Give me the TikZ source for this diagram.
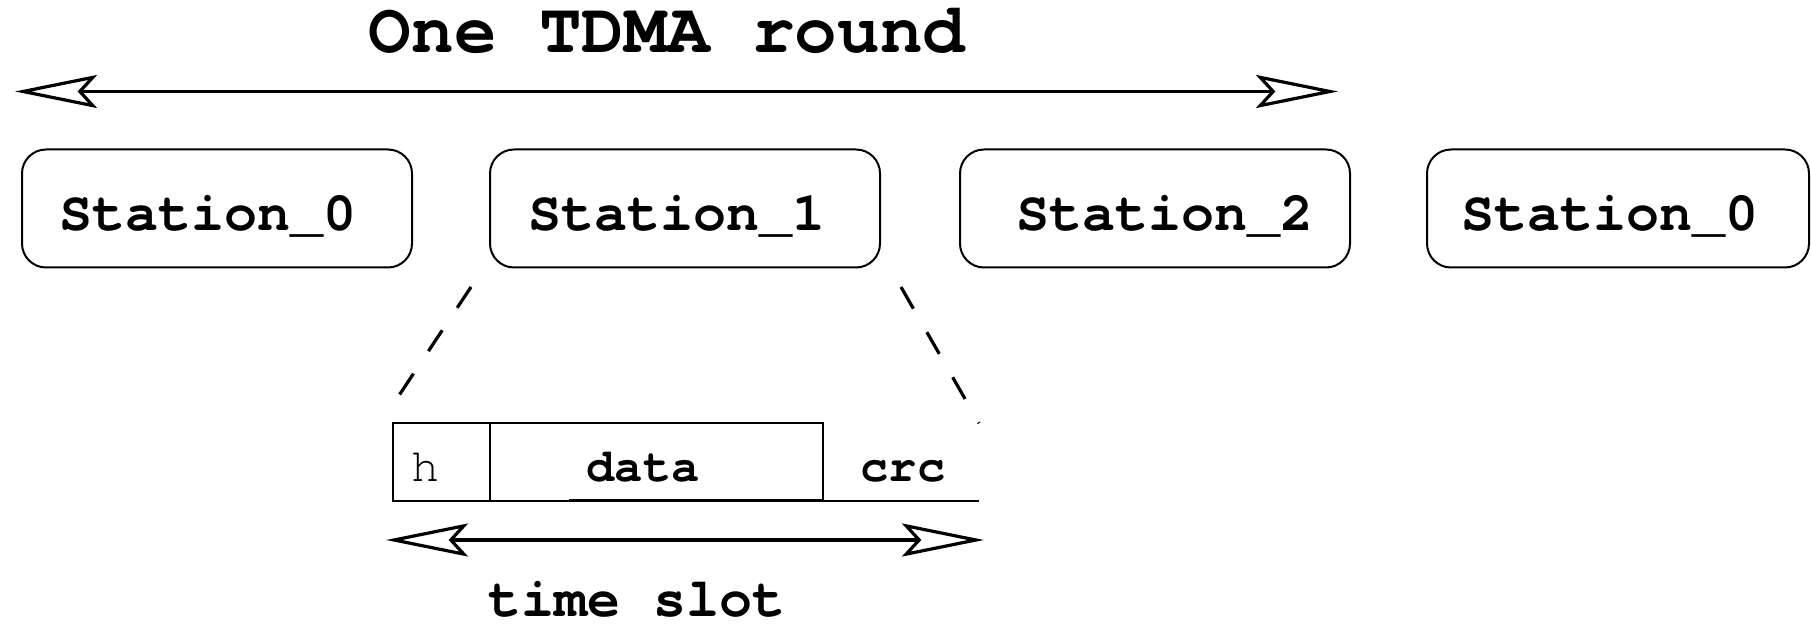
\documentclass[tikz,border=0pt]{standalone}
\usepackage{fontspec}
\setmonofont{TeX Gyre Cursor}
\usetikzlibrary{arrows.meta}
\begin{document}
\begin{tikzpicture}[x=0.5pt,y=-0.5pt,
  stationbox/.style={draw, line width=1pt, rounded corners=12pt,
    minimum width=195pt, minimum height=59pt, inner sep=0pt, outer sep=0pt,
    anchor=north west},
  stationtext/.style={anchor=base, inner sep=0pt,
    font=\ttfamily\bfseries\fontsize{27.5}{30}\selectfont},
  cell/.style={draw, line width=1pt, minimum height=38.75pt, inner sep=0pt,
    outer sep=0pt, anchor=north west},
  celltext/.style={anchor=base, inner sep=0pt,
    font=\ttfamily\fontsize{23.5}{26}\selectfont},
  span/.style={line width=1.6pt,
    {Stealth[open, length=41pt, width=16.5pt, inset=7.5pt]}-{Stealth[open, length=41pt, width=16.5pt, inset=7.5pt]}},
  zoomline/.style={line width=1.6pt, dash pattern=on 12.5pt off 13.5pt}]
\useasboundingbox (0,0) rectangle (1811,625);

% heading and the span of one round
\node[anchor=base, inner sep=0pt,
  font=\ttfamily\bfseries\fontsize{35.5}{40}\selectfont] (title) at (667,53) {One TDMA round};
\coordinate (roundL) at (15,91.5);
\coordinate (roundR) at (1338,91.5);
\draw[span] (roundL) -- (roundR);

% station slots
\node[stationbox] (st0) at (22,149.5) {};
\node[stationbox] (st1) at (490,149.5) {};
\node[stationbox] (st2) at (960,149.5) {};
\node[stationbox, minimum width=191pt] (st3) at (1427,149.5) {};
\node[stationtext] (st0t) at (208,231) {Station\_0};
\node[stationtext] (st1t) at (677,231) {Station\_1};
\node[stationtext] (st2t) at (1165,231) {Station\_2};
\node[stationtext] (st3t) at (1610,231) {Station\_0};

% layout of one slot
\node[cell, minimum width=48.5pt] (hcell) at (393,423.3) {};
\node[cell, minimum width=166.35pt] (datacell) at (490,423.3) {};
\node[minimum width=78.15pt, minimum height=38.75pt, inner sep=0pt, outer sep=0pt,
  anchor=north west] (crccell) at (822.7,423.3) {};
\draw[line width=1pt] (datacell.south east) -- (crccell.south east);
\draw[line width=1.5pt] (569,500.8) -- (datacell.south east);
\node[celltext] (htxt) at (426,482) {h};
\node[celltext, font=\ttfamily\bfseries\fontsize{23.5}{26}\selectfont] (datatxt) at (643,482) {data};
\node[celltext, font=\ttfamily\bfseries\fontsize{23.5}{26}\selectfont] (crctxt) at (903,482) {crc};

% zoom lines from Station_1 down to the slot
\coordinate (zl1) at (471,287);
\coordinate (zl2) at (388,412);
\coordinate (zr1) at (901,287);
\draw[zoomline] (zl1) -- (zl2);
\draw[zoomline] (zr1) -- (crccell.north east);

% span of one slot
\coordinate (slotL) at (386,540);
\coordinate (slotR) at (984,540);
\draw[span] (slotL) -- (slotR);
\node[anchor=base, inner sep=0pt,
  font=\ttfamily\bfseries\fontsize{27.5}{30}\selectfont] (slottxt) at (637,617) {time slot};
\end{tikzpicture}
\end{document}
